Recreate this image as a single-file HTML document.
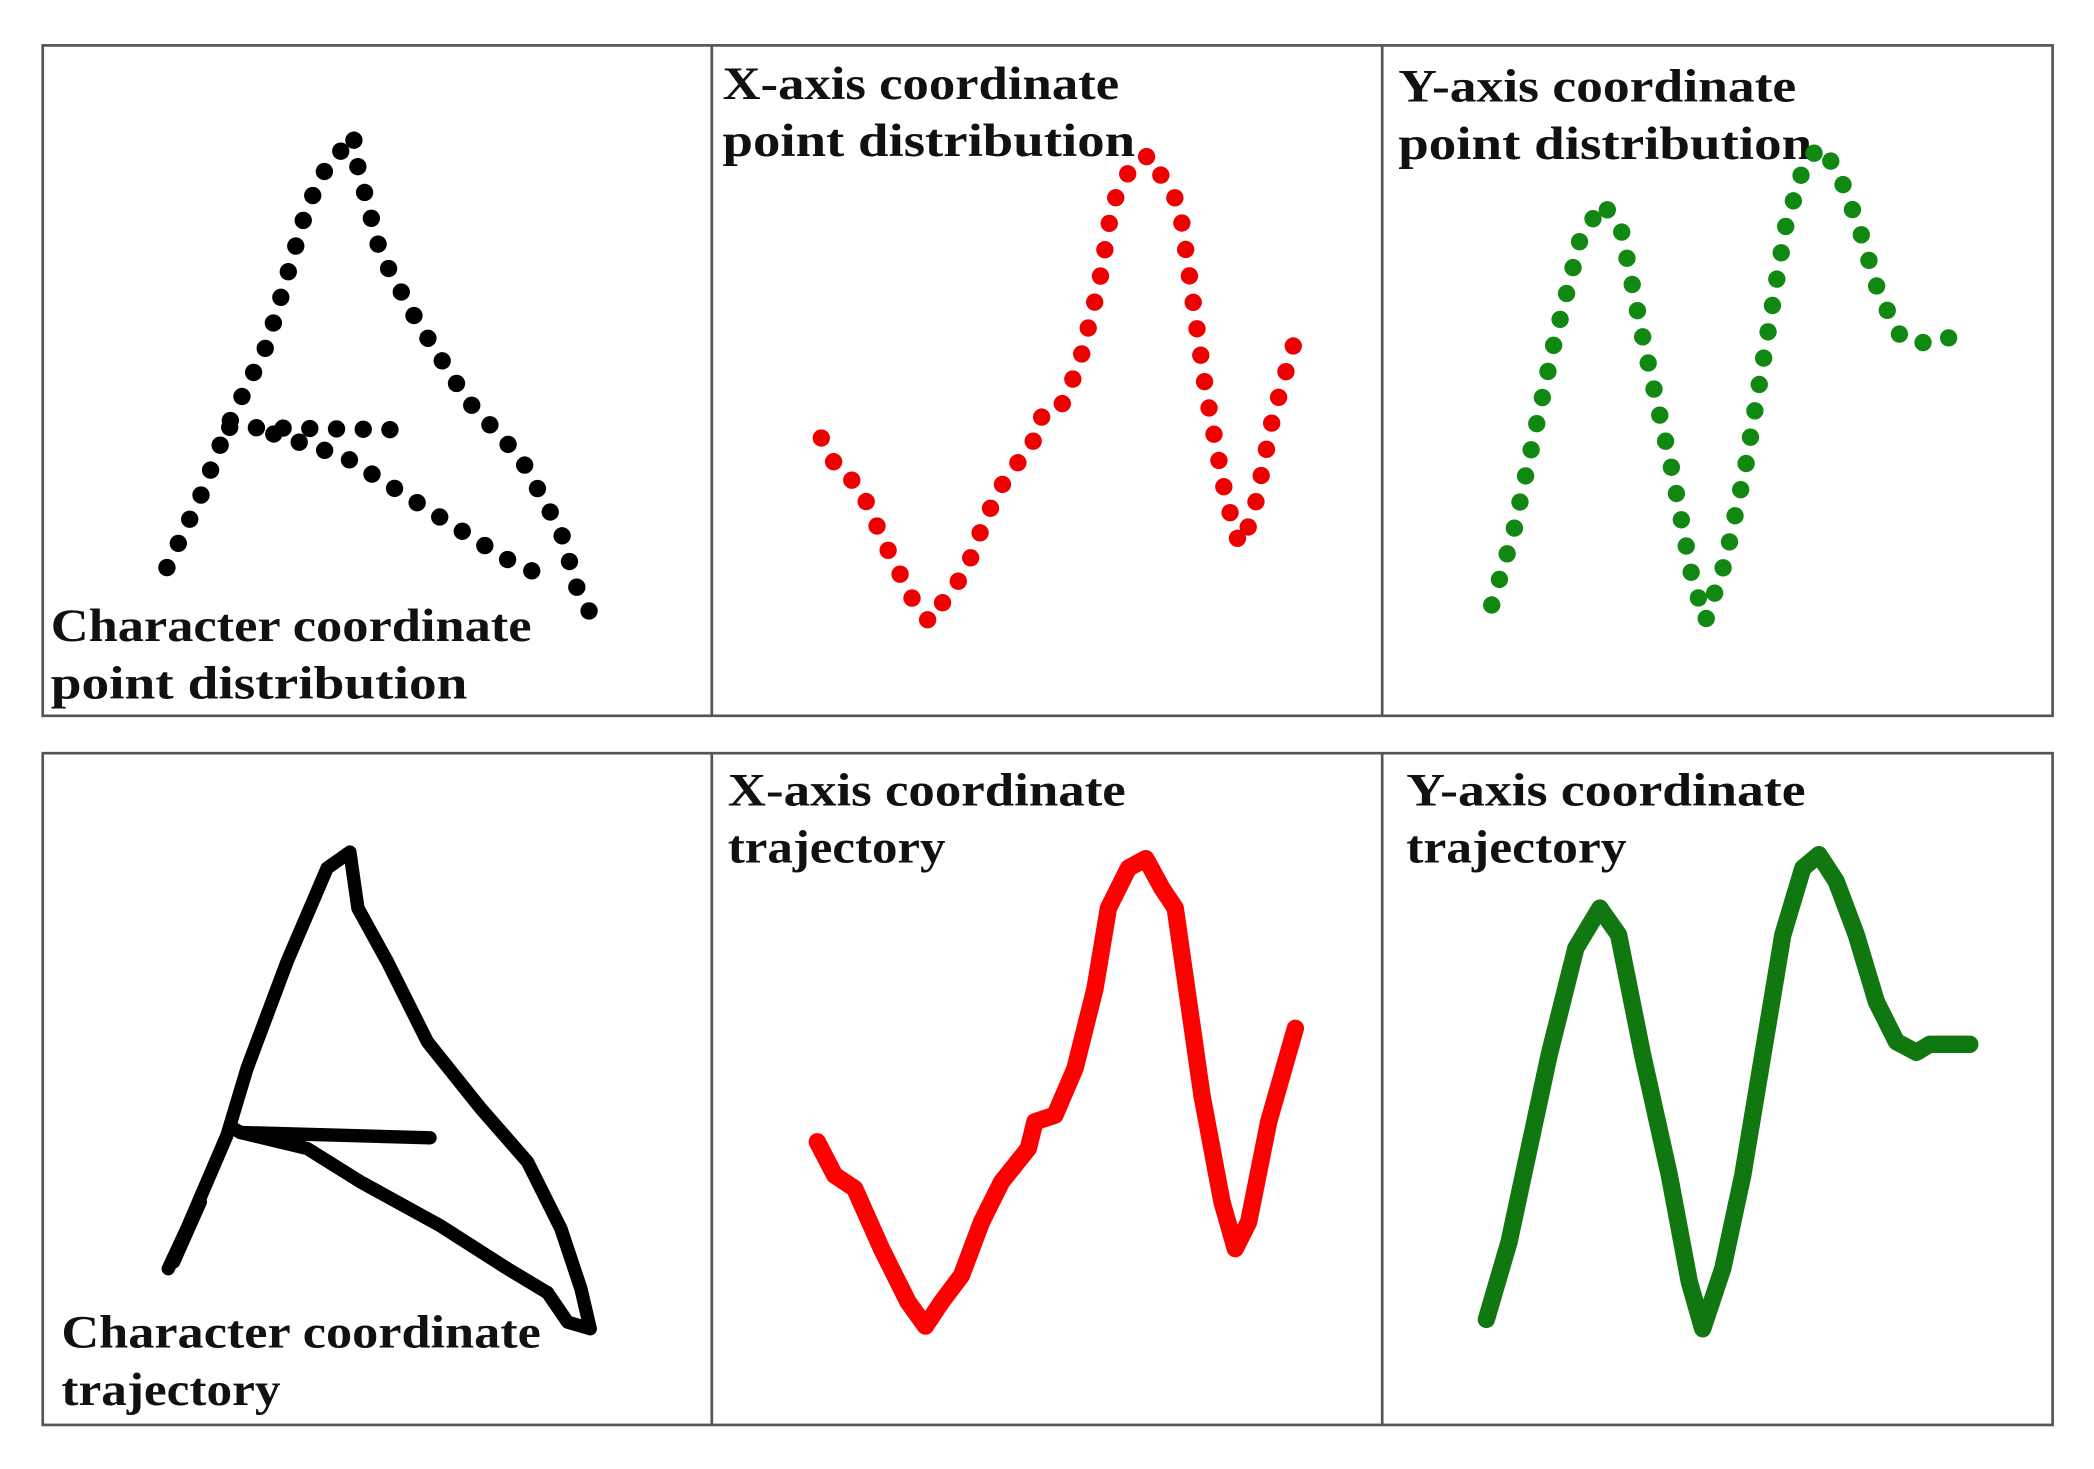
<!DOCTYPE html>
<html><head><meta charset="utf-8"><style>
html,body{margin:0;padding:0;background:#fff;}
svg{display:block;}
text{font-family:"Liberation Serif",serif;font-size:35px;fill:#111;}
</style></head><body>
<svg width="2094" height="1469" viewBox="0 0 1568 1100" preserveAspectRatio="none" xmlns="http://www.w3.org/2000/svg">
<rect x="0" y="0" width="1568" height="1100" fill="#fff"/>
<g fill="none" stroke="#555" stroke-width="2">
<rect x="32" y="34" width="1505" height="502"/>
<line x1="533" y1="34" x2="533" y2="536"/><line x1="1035" y1="34" x2="1035" y2="536"/>
<rect x="32" y="564" width="1505" height="503"/>
<line x1="533" y1="564" x2="533" y2="1067"/><line x1="1035" y1="564" x2="1035" y2="1067"/>
</g>
<g font-weight="bold" lengthAdjust="spacingAndGlyphs">
<text x="541" y="74" textLength="297" lengthAdjust="spacingAndGlyphs">X-axis coordinate</text><text x="541" y="117" textLength="309" lengthAdjust="spacingAndGlyphs">point distribution</text>
<text x="1047" y="76" textLength="298" lengthAdjust="spacingAndGlyphs">Y-axis coordinate</text><text x="1047" y="119" textLength="310" lengthAdjust="spacingAndGlyphs">point distribution</text>
<text x="38" y="480" textLength="360" lengthAdjust="spacingAndGlyphs">Character coordinate</text><text x="38" y="523" textLength="312" lengthAdjust="spacingAndGlyphs">point distribution</text>
<text x="545" y="603" textLength="298" lengthAdjust="spacingAndGlyphs">X-axis coordinate</text><text x="545" y="646" textLength="163" lengthAdjust="spacingAndGlyphs">trajectory</text>
<text x="1053" y="603" textLength="299" lengthAdjust="spacingAndGlyphs">Y-axis coordinate</text><text x="1053" y="646" textLength="165" lengthAdjust="spacingAndGlyphs">trajectory</text>
<text x="46" y="1009" textLength="359" lengthAdjust="spacingAndGlyphs">Character coordinate</text><text x="46" y="1052" textLength="164" lengthAdjust="spacingAndGlyphs">trajectory</text>
</g>
<!-- dotted top row -->
<g fill="none" stroke-linecap="round" stroke-linejoin="round" stroke-width="13" stroke-dasharray="0 20">
<path stroke="#000" d="M125 425 L150 372 L170 320 L200 258 L230 155 L247 120 L265 105"/>
<path stroke="#000" d="M265 105 L268 125 L285 190 L312 240 L350 300 L390 343 L420 398 L432 440 L445 465"/>
<path stroke="#000" d="M172 320 L310 322"/>
<path stroke="#000" d="M205 325 L258 342 L318 380 L378 418 L410 433"/>
<path stroke="#ee0000" d="M615 328 L628 353 L643 363 L663 408 L683 448 L696 466 L708 448 L723 428 L738 388 L753 358 L773 333 L778 313 L793 308 L808 273 L823 213 L833 153 L848 123 L861 116 L873 138 L883 153 L893 223 L903 293 L918 373 L928 408 L938 388 L953 313 L973 243"/>
<path stroke="#118811" d="M1117 453 L1133 400 L1148 330 L1163 260 L1183 180 L1200 152 L1214 172 L1232 262 L1252 352 L1267 432 L1277 465 L1292 420 L1307 350 L1322 260 L1337 170 L1352 120 L1364 110 L1377 130 L1392 170 L1407 220 L1422 250 L1437 258 L1447 253 L1475 253"/>
</g>
<!-- trajectories -->
<g fill="none" stroke-linecap="round" stroke-linejoin="round">
<g stroke="#000" stroke-width="10">
<path d="M126 950 L140 920 L170 850 L185 800 L215 720 L245 650 L262 638 L268 680 L290 720 L320 780 L360 830 L395 870 L420 920 L435 965 L442 995 L425 990 L410 968"/>
<path d="M410 968 L380 950 L330 918 L270 885 L230 860 L180 848 L175 845"/>
<path d="M180 848 L322 852"/>
<path d="M130 945 L150 900"/>
</g>
<path stroke="#ff0000" stroke-width="13" d="M612 855 L625 880 L640 890 L660 935 L680 975 L693 993 L705 975 L720 955 L735 915 L750 885 L770 860 L775 840 L790 835 L805 800 L820 740 L830 680 L845 650 L858 643 L870 665 L880 680 L890 750 L900 820 L915 900 L925 935 L935 915 L950 840 L970 770"/>
<path stroke="#117711" stroke-width="13" d="M1113 988 L1130 930 L1145 860 L1160 790 L1180 710 L1198 680 L1212 700 L1230 790 L1250 880 L1265 960 L1275 995 L1290 950 L1305 880 L1320 790 L1335 700 L1350 650 L1362 640 L1375 660 L1390 700 L1405 750 L1420 780 L1435 788 L1445 782 L1475 782"/>
</g>
</svg>
</body></html>
